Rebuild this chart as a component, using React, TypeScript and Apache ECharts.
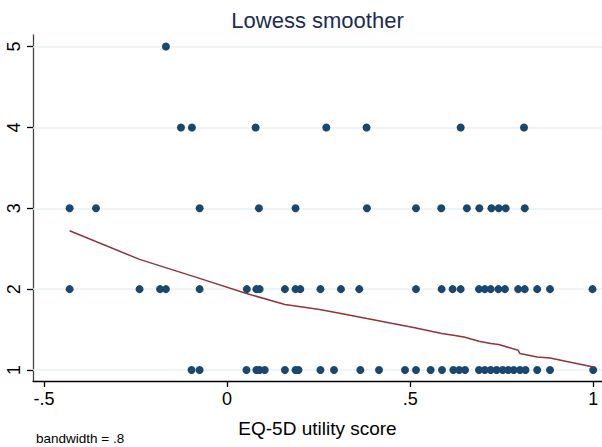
import React, { useEffect, useRef } from "react";
import * as echarts from "echarts";

const titleText = "Lowess smoother";
const xAxisTitle = "EQ-5D utility score";
const noteText = "bandwidth = .8";

const xTicks = [-0.5, 0, 0.5, 1];
const yTicks = [1, 2, 3, 4, 5];

// EQ-5D utility scores observed at each outcome level (y = 1..5)
const row1X = [-0.097, -0.075, 0.053, 0.080, 0.089, 0.103, 0.158, 0.187, 0.195, 0.255, 0.292, 0.364, 0.415, 0.486, 0.516, 0.556, 0.587, 0.618, 0.634, 0.650, 0.688, 0.704, 0.720, 0.736, 0.753, 0.768, 0.783, 0.800, 0.815, 0.847, 0.882, 1.0];
const row2X = [-0.430, -0.239, -0.183, -0.167, -0.075, 0.054, 0.080, 0.089, 0.158, 0.187, 0.200, 0.255, 0.311, 0.361, 0.516, 0.586, 0.616, 0.638, 0.688, 0.704, 0.720, 0.741, 0.759, 0.795, 0.813, 0.847, 0.882, 0.998];
const row3X = [-0.430, -0.358, -0.075, 0.087, 0.187, 0.382, 0.516, 0.585, 0.655, 0.689, 0.722, 0.742, 0.761, 0.813];
const row4X = [-0.126, -0.096, 0.078, 0.271, 0.381, 0.638, 0.811];
const row5X = [-0.167];

// lowess smooth
const lowessX = [-0.430, -0.239, -0.075, 0.053, 0.158, 0.253, 0.311, 0.382, 0.516, 0.586, 0.618, 0.647, 0.688, 0.720, 0.742, 0.795, 0.800, 0.847, 0.882, 1.0];
const lowessY = [2.722, 2.368, 2.133, 1.947, 1.810, 1.748, 1.700, 1.637, 1.520, 1.451, 1.430, 1.409, 1.356, 1.327, 1.315, 1.244, 1.203, 1.161, 1.149, 1.037];

const rows = [row1X, row2X, row3X, row4X, row5X];

function fmt(v: number): string {
  if (v === 0) return "0";
  const s = String(v);
  return s.replace(/^(-?)0\./, "$1.");
}

export default function App() {
  const ref = useRef<HTMLDivElement>(null);
  useEffect(() => {
    document.body.style.margin = "0";
    if (!ref.current) return;
    const chart = echarts.init(ref.current, null, { renderer: "svg" });
    const points: number[][] = [];
    rows.forEach((xs, i) => xs.forEach((x) => points.push([x, yTicks[i]])));
    const lowess = lowessX.map((x, i) => [x, lowessY[i]]);
    const font = "Liberation Sans, Arial, Helvetica, sans-serif";
    chart.setOption({
      animation: false,
      backgroundColor: "#ffffff",
      textStyle: { fontFamily: font },
      grid: { left: 33, right: 0, top: 35, bottom: 66, containLabel: false },
      graphic: [
        {
          type: "text",
          x: 317.5,
          y: 20,
          style: {
            text: titleText,
            fill: "#1c2c54",
            font: `22px ${font}`,
            align: "center",
            verticalAlign: "middle",
          },
        },
        {
          type: "text",
          x: 36,
          y: 438,
          style: {
            text: noteText,
            fill: "#000000",
            font: `13.5px ${font}`,
            align: "left",
            verticalAlign: "middle",
          },
        },
      ],
      xAxis: {
        type: "value",
        min: -0.53,
        max: 1.024,
        name: xAxisTitle,
        nameLocation: "middle",
        nameGap: 38,
        nameTextStyle: { fontSize: 19, color: "#000", fontFamily: font },
        axisLine: { show: true, onZero: false, lineStyle: { color: "#000", width: 1.3 } },
        axisTick: { show: true, length: 6, customValues: xTicks, lineStyle: { color: "#000", width: 1.3 } },
        axisLabel: {
          show: true,
          customValues: xTicks,
          formatter: (v: number) => fmt(v),
          fontSize: 18,
          color: "#000",
          margin: 9,
          fontFamily: font,
        },
        splitLine: { show: false },
      },
      yAxis: {
        type: "value",
        min: 0.864,
        max: 5.143,
        axisLine: { show: true, onZero: false, lineStyle: { color: "#444", width: 1.3 } },
        axisTick: { show: true, length: 6, customValues: yTicks, lineStyle: { color: "#000", width: 1.3 } },
        axisLabel: {
          show: true,
          customValues: yTicks,
          rotate: 90,
          fontSize: 18,
          color: "#000",
          margin: 10,
          fontFamily: font,
        },
        splitLine: { show: false },
      },
      series: [
        {
          type: "line",
          data: [],
          silent: true,
          z: 1,
          markLine: {
            silent: true,
            z: 1,
            symbol: "none",
            label: { show: false },
            lineStyle: { color: "#eaf2f3", width: 1.5, type: "solid" },
            data: yTicks.map((v) => ({ yAxis: v })),
          },
        },
        {
          type: "scatter",
          data: points,
          symbol: "circle",
          symbolSize: 8,
          itemStyle: { color: "#1a476f", opacity: 1 },
          z: 3,
        },
        {
          type: "line",
          data: lowess,
          showSymbol: false,
          symbol: "none",
          lineStyle: { color: "#90353b", width: 1.5 },
          z: 4,
        },
      ],
    });
    return () => chart.dispose();
  }, []);
  return <div ref={ref} style={{ width: 602, height: 447 }} />;
}
